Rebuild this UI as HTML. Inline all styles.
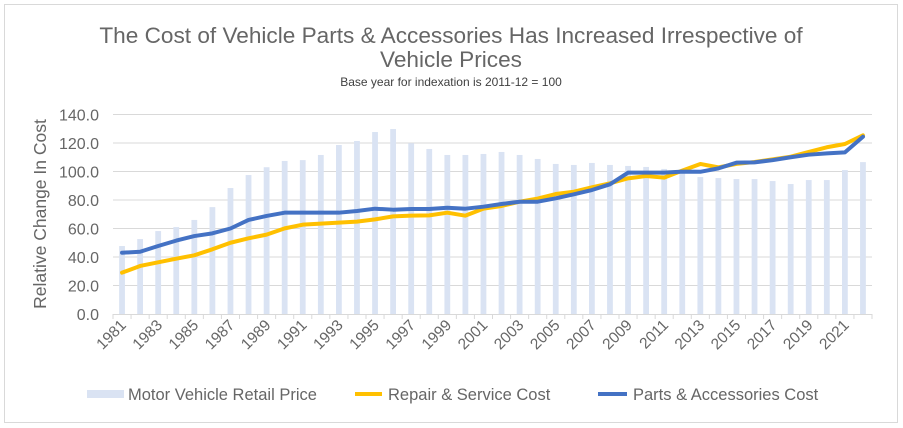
<!DOCTYPE html>
<html><head><meta charset="utf-8"><style>
html,body{margin:0;padding:0;background:#fff;}
svg{display:block;font-family:"Liberation Sans",sans-serif;}
</style></head><body>
<svg id="chart" width="903" height="428" viewBox="0 0 903 428">
<rect x="4.5" y="4.5" width="893" height="418" fill="#fff" stroke="#d9d9d9"/>
<text x="451" y="43" text-anchor="middle" font-size="22.6" fill="#666">The Cost of Vehicle Parts &amp; Accessories Has Increased Irrespective of</text>
<text x="451" y="67" text-anchor="middle" font-size="22.6" fill="#666">Vehicle Prices</text>
<text x="451" y="86" text-anchor="middle" font-size="12" fill="#404040">Base year for indexation is 2011-12 = 100</text>
<text transform="translate(46,214) rotate(-90)" text-anchor="middle" font-size="17.5" fill="#666">Relative Change In Cost</text>
<g id="grid"></g><g id="bars"></g><g id="lines"></g><g id="axes"></g>
<g>
<rect x="87" y="390" width="37" height="8" fill="#dae3f3"/>
<text x="128" y="400" font-size="16.5" fill="#666">Motor Vehicle Retail Price</text>
<line x1="355" y1="394" x2="382" y2="394" stroke="#ffc000" stroke-width="4"/>
<text x="388" y="400" font-size="16.5" fill="#666">Repair &amp; Service Cost</text>
<line x1="598" y1="394" x2="627" y2="394" stroke="#4472c4" stroke-width="4"/>
<text x="633" y="400" font-size="16.5" fill="#666">Parts &amp; Accessories Cost</text>
</g>
</svg>
<script>
const years = [];
for (let y = 1981; y <= 2022; y++) years.push(y);
const retailPrice = [47.7,52.6,58.2,61,66,75,88.4,97.5,103,107.4,108,111.6,118.6,121.4,127.7,129.8,119.8,115.8,111.6,111.6,112.3,113.7,111.6,108.8,105.3,104.6,106,104.6,103.9,103.2,101.8,101,96.1,95.4,94.7,94.7,93.3,91.2,94,94,101,106.6];
const repairCost = [29,33.7,36.3,38.8,41.2,45.4,50,53.1,55.7,60.1,62.7,63.4,64.1,64.8,66.4,68.5,69,69.2,71.1,69,73.9,75.8,78.8,81,84.2,85.8,88.9,91.7,95.2,96.8,95.7,100.6,105.3,102.9,105.3,106.7,108.5,110.4,113.7,117,119.3,125.4];
const partsCost = [43,43.7,47.7,51.5,54.7,56.6,60,66,68.8,71.1,71.1,71.1,71.1,72.3,73.9,73.2,73.7,73.7,74.6,73.9,75.3,77.2,78.8,78.8,81.2,84,87,91,99.2,99.2,99.2,99.9,99.8,102.2,106.2,106.4,108,110,111.8,112.7,113.4,124.4];
const yTicks = [0,20,40,60,80,100,120,140];

const NS = 'http://www.w3.org/2000/svg';
const left = 113, right = 872, y0 = 314, yTop = 114.5, yMax = 140;
const band = (right - left) / years.length;
const xs = i => left + band * (i + 0.5);
const ys = v => y0 - (v / yMax) * (y0 - yTop);
function mk(tag, attrs, parent) {
  const e = document.createElementNS(NS, tag);
  for (const k in attrs) e.setAttribute(k, attrs[k]);
  parent.appendChild(e);
  return e;
}
const grid = document.getElementById('grid'), bars = document.getElementById('bars'),
      lines = document.getElementById('lines'), axes = document.getElementById('axes');

yTicks.forEach(t => {
  if (t > 0) {
    const g = mk('line', {x1: left, x2: right, y1: ys(t), y2: ys(t), stroke: '#d9d9d9', 'stroke-width': 1}, grid);
    
    
  }
  const lb = mk('text', {x: 99, y: ys(t) + 6, 'text-anchor': 'end', 'font-size': 16, fill: '#666'}, axes);
  lb.textContent = t.toFixed(1);
  
  
});

const bw = band * 0.32;
retailPrice.forEach((v, i) => {
  const r = mk('rect', {x: xs(i) - bw / 2, y: ys(v), width: bw, height: y0 - ys(v), fill: '#dae3f3'}, bars);
  
  
});

function line(data, color, name) {
  const p = mk('polyline', {points: data.map((v, i) => xs(i) + ',' + ys(v)).join(' '), fill: 'none', stroke: color, 'stroke-width': 4, 'stroke-linejoin': 'round', 'stroke-linecap': 'round'}, lines);
  
  
}
line(repairCost, '#ffc000', 'line-repair-service-cost');
line(partsCost, '#4472c4', 'line-parts-accessories-cost');

const ax = mk('line', {x1: left, x2: right, y1: y0 + 0.5, y2: y0 + 0.5, stroke: '#d9d9d9', 'stroke-width': 1}, axes);


for (let i = 0; i <= years.length; i++) {
  const x = left + band * i;
  const tk = mk('line', {x1: x, x2: x, y1: y0, y2: y0 + 5, stroke: '#d9d9d9', 'stroke-width': 1}, axes);
  
  
}
years.forEach((yr, i) => {
  if (i % 2 !== 0) return;
  const x = xs(i) + 5, y = 326;
  const t = mk('text', {x: x, y: y, 'text-anchor': 'end', 'font-size': 15.5, fill: '#666', transform: 'rotate(-45 ' + x + ' ' + y + ')'}, axes);
  t.textContent = yr;
  
  
});
</script>
</body></html>
